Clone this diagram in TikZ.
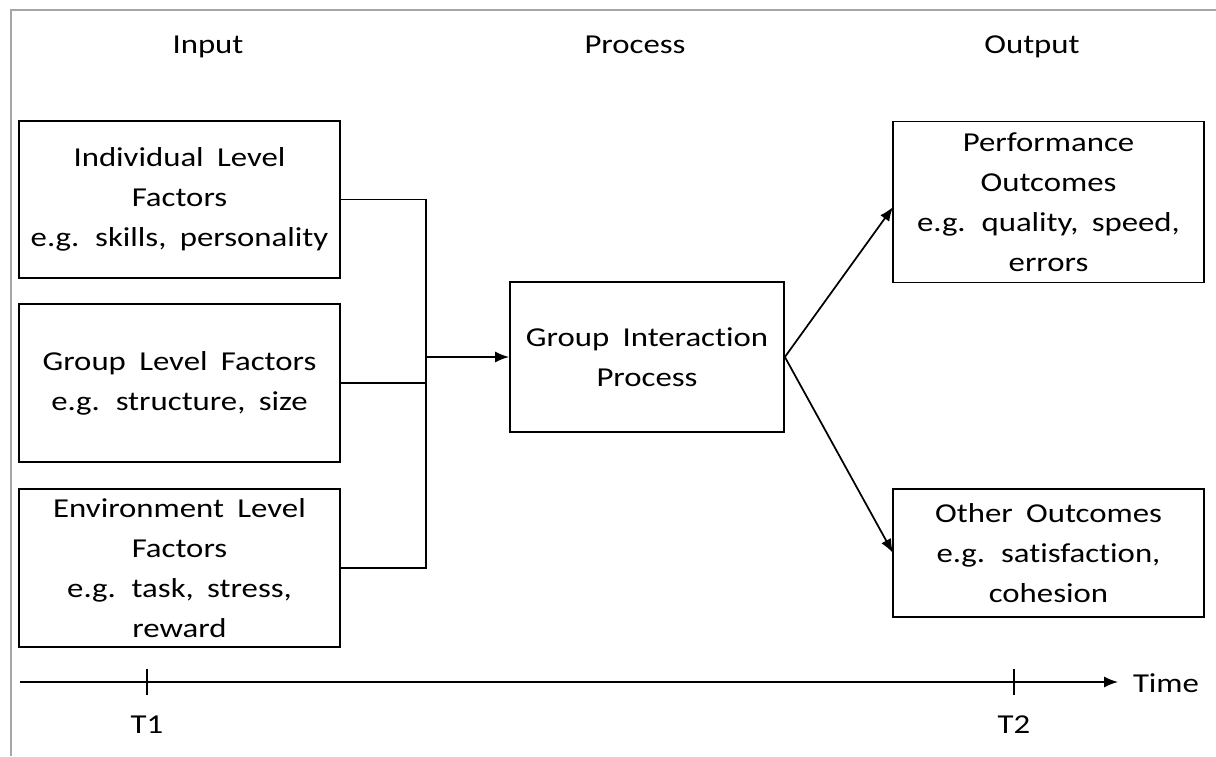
\documentclass[tikz,border=0pt]{standalone}
\usepackage{fontspec}
\setmainfont{Carlito}[FakeStretch=1.2,WordSpace=1.8,Ligatures=NoCommon]
\usetikzlibrary{arrows.meta}
\begin{document}
\begin{tikzpicture}[x=0.75pt,y=-0.75pt,
  box/.style={draw=black,line width=1.3pt,align=center,inner sep=2pt,
    font=\fontsize{20.5}{30}\selectfont},
  lbl/.style={font=\fontsize{20.5}{24}\selectfont,inner sep=0pt,anchor=base},
  conn/.style={draw=black,line width=1.3pt},
  arr/.style={conn,-{Latex[length=14pt*0.75,width=11pt*0.75]}}]
\useasboundingbox (0,0) rectangle (1216,756);
\fill[white] (0,0) rectangle (1216,756);
\draw[gray!70,line width=0.9pt] (11,756) -- (11,10) -- (1216,10);
% headers
\node[lbl] (hin) at (208,54) {Input};
\node[lbl] (hpr) at (635,54) {Process};
\node[lbl] (hout) at (1032,54) {Output};
% input boxes
\node[box,minimum width=321*0.75pt,minimum height=157*0.75pt] (b1) at (179.5,199.5)
  {Individual Level\\Factors\\e.g. skills, personality};
\node[box,minimum width=321*0.75pt,minimum height=158*0.75pt] (b2) at (179.5,383)
  {Group Level Factors\\e.g. structure, size};
\node[box,minimum width=321*0.75pt,minimum height=158*0.75pt] (b3) at (179.5,568)
  {Environment Level\\Factors\\e.g. task, stress,\\reward};
% process
\node[box,minimum width=274*0.75pt,minimum height=150*0.75pt] (gip) at (647,357)
  {Group Interaction\\Process};
% outputs
\node[box,minimum width=311*0.75pt,minimum height=161*0.75pt] (perf) at (1048.5,202)
  {Performance\\Outcomes\\e.g. quality, speed,\\errors};
\node[box,minimum width=311*0.75pt,minimum height=128*0.75pt] (oth) at (1048.5,553)
  {Other Outcomes\\e.g. satisfaction,\\cohesion};
% connectors
\coordinate (J) at (426,357);
\draw[conn] (b1.east) -- (b1.east -| J) -- (b3.east -| J) -- (b3.east);
\draw[conn] (b2.east) -- (b2.east -| J);
\draw[arr] (J) -- (gip.west);
\coordinate (po) at (893,207);
\coordinate (oo) at (893,553);
\draw[arr] (gip.east) -- (po);
\draw[arr] (gip.east) -- (oo);
% timeline
\coordinate (ts) at (20,682);
\coordinate (te) at (1118,682);
\coordinate (t1) at (147,682);
\coordinate (t2) at (1014,682);
\draw[arr,line width=1.1pt] (ts) -- (te);
\draw[conn,line width=1.1pt] ([yshift=10pt] t1) -- ([yshift=-10pt] t1);
\draw[conn,line width=1.1pt] ([yshift=10pt] t2) -- ([yshift=-10pt] t2);
\node[lbl] (time) at (1166,692) {Time};
\node[lbl] (lt1) at (147,733) {T1};
\node[lbl] (lt2) at (1014,733) {T2};
\end{tikzpicture}
\end{document}
